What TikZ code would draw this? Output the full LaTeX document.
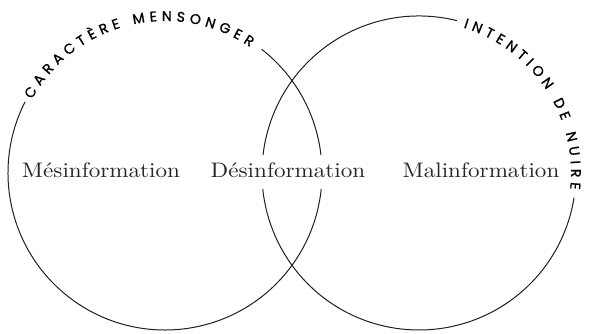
\documentclass[tikz,border=0pt]{standalone}
\usepackage{fontspec}
\newfontfamily\arcfont{Poppins}[FakeBold=1.2]
\newfontfamily\labelfont{lmroman10-regular.otf}[FakeStretch=1.1]
\usetikzlibrary{decorations.text}
\tikzset{
  infobox/.style={fill=white,inner xsep=3pt,inner ysep=8pt,text height=14pt,text depth=4pt,anchor=base,text=black!85,font=\labelfont\fontsize{21}{25}\selectfont},
  ring/.style={draw=black!88,line width=1pt},
  arctext/.style={decorate,decoration={text along path,text align={fit to path},raise=-5pt,text={|\arcfont\fontsize{14}{16}\selectfont|#1}}}
}
\begin{document}
\begin{tikzpicture}[x=1pt,y=1pt,>=latex,line join=bevel]
%%
  \useasboundingbox (0,0) rectangle (589,333);
  \coordinate (left_c) at (165,160);
  \coordinate (right_c) at (419,160);

  \draw [ring] ([shift={(52:157)}]left_c) arc[start angle=52,end angle=-207,radius=157pt];
  \draw [ring] ([shift={(76:157)}]right_c) arc[start angle=76,end angle=351,radius=157pt];
  \path [arctext={CARACTÈRE MENSONGER}] ([shift={(151:157)}]left_c) arc[start angle=151,end angle=56,radius=157pt];
  \path [arctext={INTENTION DE NUIRE}] ([shift={(73:157)}]right_c) arc[start angle=73,end angle=-6,radius=157pt];

  \node (node_0) at (101,156) [infobox] {Mésinformation};
  \node (node_1) at (288,156) [infobox] {Désinformation};
  \node (node_2) at (481,156) [infobox] {Malinformation};
%
\end{tikzpicture}
\end{document}
